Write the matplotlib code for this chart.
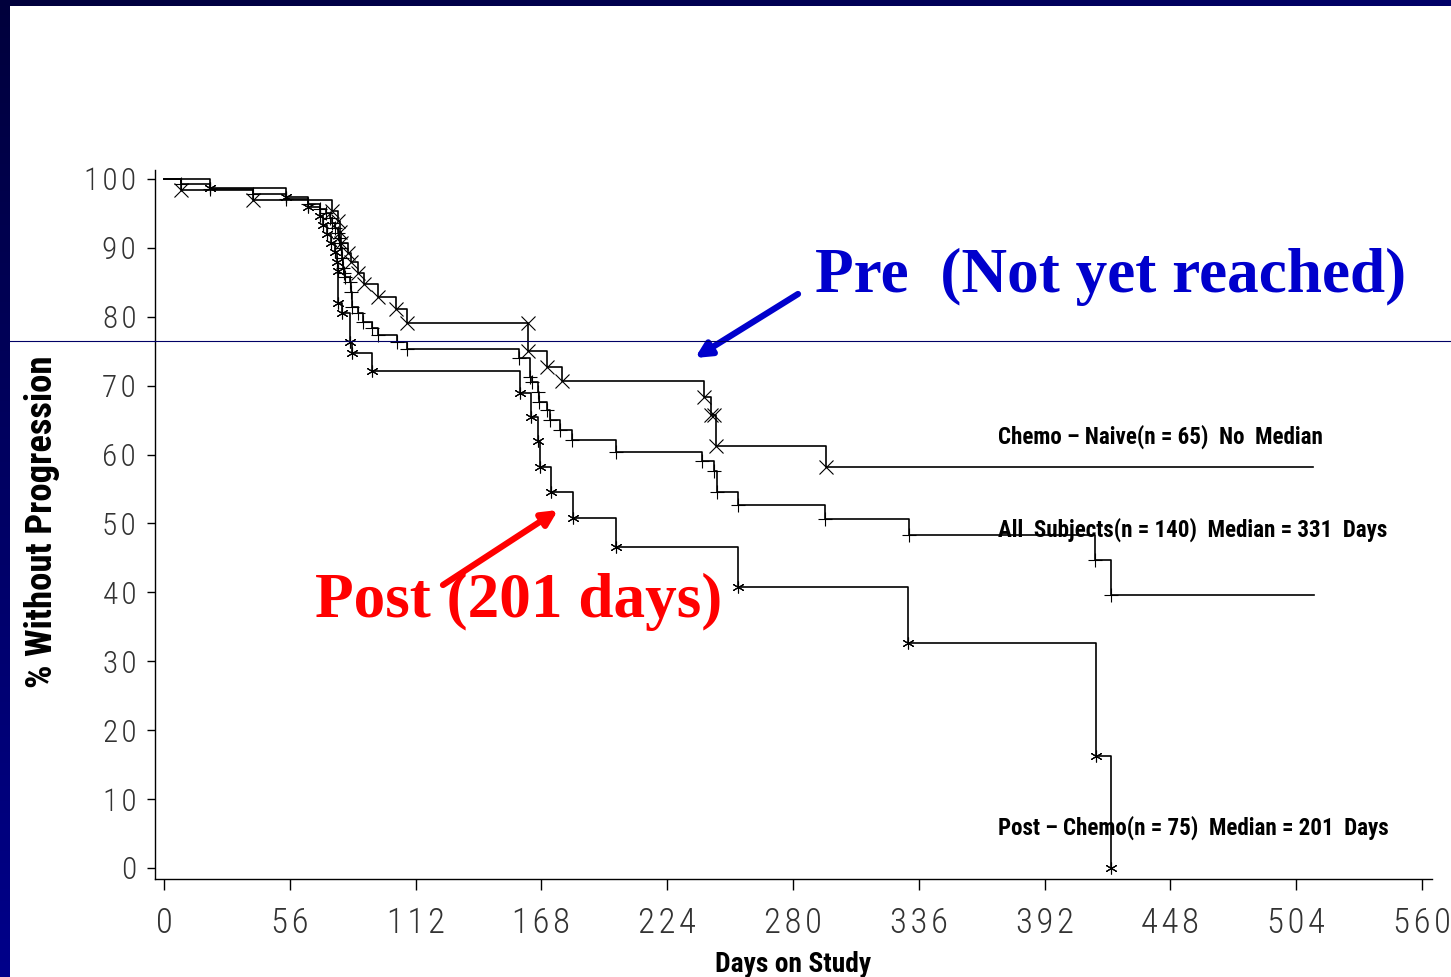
import numpy as np
import matplotlib
matplotlib.use("Agg")
import matplotlib.pyplot as plt
from matplotlib import font_manager as fm
from matplotlib.lines import Line2D
from matplotlib.colors import LinearSegmentedColormap

# ---- progression-free curves: (day, % without progression) at each plotted point ----
naive_days = [0, 7.6, 39.6, 74.7, 77.4, 78.5, 79.0, 81.8, 83.4, 86.5, 89.0, 95.4,
              103.3, 108.3, 162.0, 162.2, 170.6, 177.3, 240.5, 243.5, 245.0, 245.9, 294.9]
naive_pct = [100, 98.46, 96.92, 95.38, 93.85, 92.31, 90.77, 89.23, 88.0, 86.3, 84.8, 82.9,
             81.1, 79.1, 79.1, 75.0, 72.7, 70.7, 68.4, 65.7, 65.7, 61.2, 58.2]
naive_end = 511.4

all_days = [0, 7.6, 20.5, 39.6, 54.3, 64.0, 69.5, 72.0, 74.0, 74.7, 76.0, 77.4, 77.8,
            78.5, 78.9, 79.3, 79.6, 80.0, 80.5, 82.8, 83.2, 83.6, 86.5, 88.5, 92.5, 95.4,
            103.6, 108.3, 158.2, 163.0, 163.7, 166.4, 167.1, 170.4, 171.9, 176.4, 181.6,
            201.3, 239.5, 244.7, 246.2, 255.4, 294.4, 331.8, 414.3, 421.4]
all_pct = [100, 99.29, 98.57, 97.86, 97.14, 96.43, 95.71, 95.0, 94.29, 93.57, 92.86, 92.14,
           91.43, 90.71, 90.0, 88.6, 87.1, 86.4, 85.7, 85.0, 83.6, 81.4, 80.5, 79.3, 78.3,
           77.4, 76.4, 75.3, 74.0, 71.3, 70.5, 69.1, 67.7, 66.5, 65.0, 63.6, 62.1, 60.4,
           59.1, 57.6, 54.6, 52.7, 50.7, 48.3, 44.7, 39.6]
all_end = 511.8

post_days = [0, 20.5, 54.3, 64.0, 69.5, 71.0, 72.5, 74.5, 76.0, 77.0, 77.3, 77.6, 79.1,
             82.9, 83.6, 92.5, 158.3, 163.3, 166.4, 167.5, 172.2, 182.0, 201.3, 255.7,
             331.4, 414.7, 421.4]
post_pct = [100, 98.67, 97.33, 96.0, 94.67, 93.33, 92.0, 90.67, 89.33, 88.0, 86.67, 82.0,
            80.5, 76.4, 74.7, 72.2, 69.0, 65.5, 61.9, 58.2, 54.6, 50.8, 46.6, 40.8, 32.7,
            16.3, 0.0]

x_ticks = [0, 56, 112, 168, 224, 280, 336, 392, 448, 504, 560]
y_ticks = [0, 10, 20, 30, 40, 50, 60, 70, 80, 90, 100]

label_naive = "Chemo – Naive(n = 65)  No  Median"
label_all = "All  Subjects(n = 140)  Median = 331  Days"
label_post = "Post – Chemo(n = 75)  Median = 201  Days"

# ---- fonts: prefer narrow faces when present ----
_installed = {f.name for f in fm.fontManager.ttflist}


def pick(*cands):
    return [c for c in cands if c in _installed] + ["DejaVu Sans"]


TICKFONT = pick("Roboto Condensed", "Liberation Sans Narrow", "Roboto", "Liberation Sans")
BOLDNARROW = pick("Roboto Condensed", "Liberation Sans Narrow", "Liberation Sans")
SERIF = pick("Liberation Serif", "DejaVu Serif")
HAIR = "\u200a"

W, H = 1451, 977
fig = plt.figure(figsize=(W / 100, H / 100), dpi=100, facecolor="white")

# slide frame: gradient bars along the top and left edges
top_cmap = LinearSegmentedColormap.from_list("top", ["#00003c", "#000068"])
left_cmap = LinearSegmentedColormap.from_list("left", ["#00008a", "#00003c"])
ax_top = fig.add_axes([0, 1 - 6 / H, 1, 6 / H])
ax_top.imshow(np.linspace(0, 1, 256)[None, :], cmap=top_cmap, aspect="auto")
ax_top.axis("off")
ax_left = fig.add_axes([0, 0, 10 / W, 1])
ax_left.imshow(np.linspace(0, 1, 256)[:, None], cmap=left_cmap, aspect="auto", origin="lower")
ax_left.axis("off")
fig.add_artist(Line2D([10 / W, 1], [1 - 341 / H] * 2, transform=fig.transFigure,
                      color="#000066", lw=0.8, zorder=5))

# main plot area
ax = fig.add_axes([155 / W, (H - 879) / H, (1432 - 155) / W, (879 - 170) / H])
ax.set_facecolor("none")
ax.set_xlim(-4.0, 564.5)
ax.set_ylim(-1.6, 101.3)
for s in ("top", "right"):
    ax.spines[s].set_visible(False)
for s in ("left", "bottom"):
    ax.spines[s].set_linewidth(1.0)

lw = 1.2


def draw_curve(days, pct, end, marker, ms, mew):
    d = list(days) + ([end] if end is not None else [])
    p = list(pct) + ([pct[-1]] if end is not None else [])
    ax.step(d, p, where="post", color="black", lw=lw, zorder=3)
    ax.plot(days[1:], pct[1:], ls="none", marker=marker, ms=ms, mew=mew,
            color="black", zorder=4)


draw_curve(naive_days, naive_pct, naive_end, "x", 10, 0.8)
draw_curve(all_days, all_pct, all_end, "+", 10.5, 0.8)
draw_curve(post_days, post_pct, None, (6, 2, 0), 8.5, 0.8)

ax.set_xticks(x_ticks)
ax.set_xticklabels([HAIR.join(str(v)) for v in x_ticks])
ax.set_yticks(y_ticks)
ax.set_yticklabels([HAIR.join(str(v)) for v in y_ticks])
ax.tick_params(axis="x", direction="out", length=8, width=1.0, pad=12,
               labelsize=25, labelcolor="#333333")
ax.tick_params(axis="y", direction="out", length=6, width=1.0, pad=7.5,
               labelsize=22.5, labelcolor="#333333")
for t in ax.get_xticklabels() + ax.get_yticklabels():
    t.set_family(TICKFONT)
    t.set_fontweight("light")

fig.text(793 / W, 1 - 964 / H, "Days on Study", family=BOLDNARROW, fontweight="bold",
         fontsize=19.8, ha="center", va="center")
fig.text(42 / W, 1 - 522 / H, "% Without Progression", family=BOLDNARROW, fontweight="bold",
         fontsize=26.5, ha="center", va="center", rotation=90)

# curve labels
for txt, yv in ((label_naive, 62.6), (label_all, 49.1), (label_post, 5.8)):
    ax.text(371.5, yv, txt, family=BOLDNARROW, fontweight="bold", fontsize=16.6,
            va="center", ha="left", zorder=6)

# callouts
fig.text(815 / W, 1 - 277 / H, "Pre  (Not yet reached)", family=SERIF, fontweight="bold",
         fontsize=45.5, color="#0000cc", va="center", ha="left")
fig.text(315 / W, 1 - 602 / H, "Post (201 days)", family=SERIF, fontweight="bold",
         fontsize=45.5, color="#ff0000", va="center", ha="left")

ax.annotate("", xy=(695 / W, 1 - 358 / H), xycoords="figure fraction",
            xytext=(798 / W, 1 - 294 / H), textcoords="figure fraction",
            arrowprops=dict(arrowstyle="-|>,head_length=0.9,head_width=0.45",
                            color="#0000cc", lw=4.5, shrinkA=0, shrinkB=0))
ax.annotate("", xy=(558 / W, 1 - 510 / H), xycoords="figure fraction",
            xytext=(443 / W, 1 - 585 / H), textcoords="figure fraction",
            arrowprops=dict(arrowstyle="-|>,head_length=0.9,head_width=0.45",
                            color="#ff0000", lw=4.5, shrinkA=0, shrinkB=0))

fig.savefig("out.png", dpi=100, facecolor="white")
